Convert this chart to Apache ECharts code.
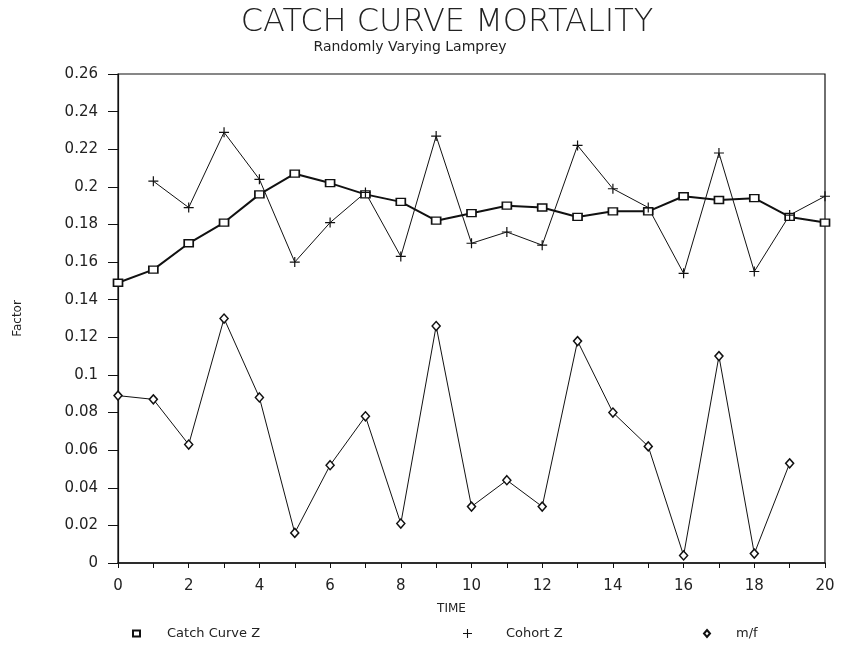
<!DOCTYPE html>
<html>
<head>
<meta charset="utf-8">
<script src="https://cdn.jsdelivr.net/npm/echarts@6/dist/echarts.min.js"></script>
<style>
  html, body { margin: 0; padding: 0; background: #fff; }
  #chart { width: 843px; height: 645px; }
</style>
</head>
<body>
<div id="chart"></div>
<script>
// 数据
var timeCatch = [0, 1, 2, 3, 4, 5, 6, 7, 8, 9, 10, 11, 12, 13, 14, 15, 16, 17, 18, 19, 20];
var catchCurveZ = [0.149, 0.156, 0.170, 0.181, 0.196, 0.207, 0.202, 0.196, 0.192, 0.182,
  0.186, 0.190, 0.189, 0.184, 0.187, 0.187, 0.195, 0.193, 0.194, 0.184, 0.181];

var timeCohort = [1, 2, 3, 4, 5, 6, 7, 8, 9, 10, 11, 12, 13, 14, 15, 16, 17, 18, 19, 20];
var cohortZ = [0.203, 0.189, 0.229, 0.204, 0.160, 0.181, 0.197, 0.163, 0.227,
  0.170, 0.176, 0.169, 0.222, 0.199, 0.189, 0.154, 0.218, 0.155, 0.185, 0.195];

var timeMf = [0, 1, 2, 3, 4, 5, 6, 7, 8, 9, 10, 11, 12, 13, 14, 15, 16, 17, 18, 19];
var mf = [0.089, 0.087, 0.063, 0.130, 0.088, 0.016, 0.052, 0.078, 0.021, 0.126,
  0.030, 0.044, 0.030, 0.118, 0.080, 0.062, 0.004, 0.110, 0.005, 0.053];

var seriesNames = ["Catch Curve Z", "Cohort Z", "m/f"];

function pairs(xs, ys) {
  return xs.map(function (x, i) { return [x, ys[i]]; });
}

var font = "DejaVu Sans";
var plusIcon = "path://M0,4.4H10V5.6H0Z M4.4,0H5.6V10H4.4Z";
var legendText = { fontFamily: font, fontSize: 13, color: "#222" };

var chart = echarts.init(document.getElementById("chart"));
var option = {
  animation: false,
  backgroundColor: "#fff",
  title: [
    {
      text: "CATCH CURVE MORTALITY",
      left: 442, top: 2, textAlign: "center",
      textStyle: { fontFamily: font, fontSize: 32, fontWeight: 200, color: "#222" }
    },
    {
      text: "Randomly Varying Lamprey",
      left: 405, top: 35, textAlign: "center",
      textStyle: { fontFamily: font, fontSize: 14, fontWeight: "normal", color: "#222" }
    }
  ],
  grid: {
    left: 118, right: 18, top: 74, bottom: 82,
    show: true, borderColor: "#111", borderWidth: 1.2
  },
  legend: [
    {
      data: [{ name: seriesNames[0], icon: "rect" }], left: 127, top: 622,
      itemWidth: 7, itemHeight: 6, itemGap: 10,
      textStyle: Object.assign({ padding: [0, 0, 0, 22] }, legendText)
    },
    {
      data: [{ name: seriesNames[1], icon: plusIcon }], left: 458, top: 622,
      itemWidth: 9, itemHeight: 9,
      textStyle: Object.assign({ padding: [0, 0, 0, 29] }, legendText)
    },
    {
      data: [{ name: seriesNames[2], icon: "diamond" }], left: 698, top: 622,
      itemWidth: 6, itemHeight: 7,
      textStyle: Object.assign({ padding: [0, 0, 0, 21] }, legendText)
    }
  ],
  xAxis: {
    type: "value", min: 0, max: 20, interval: 2,
    name: "TIME", nameLocation: "middle", nameGap: 40,
    nameTextStyle: { fontFamily: font, fontSize: 12, color: "#222", padding: [0, 40, 0, 0] },
    axisLine: { lineStyle: { color: "#111", width: 1.5 } },
    axisTick: { length: 5, lineStyle: { color: "#111" } },
    minorTick: { show: true, splitNumber: 2, length: 5, lineStyle: { color: "#111" } },
    axisLabel: { fontFamily: font, fontSize: 15, color: "#222", margin: 16 },
    splitLine: { show: false }
  },
  yAxis: {
    type: "value", min: 0, max: 0.26, interval: 0.02,
    name: "Factor", nameLocation: "middle", nameGap: 94,
    nameTextStyle: { fontFamily: font, fontSize: 12, color: "#222" },
    axisLine: { lineStyle: { color: "#111", width: 1.2 } },
    axisTick: { length: 10, lineStyle: { color: "#111" } },
    axisLabel: {
      fontFamily: font, fontSize: 15, color: "#222", margin: 20,
      formatter: function (v) { return String(parseFloat(v.toFixed(2))); }
    },
    splitLine: { show: false }
  },
  series: [
    {
      name: seriesNames[0], type: "line", data: pairs(timeCatch, catchCurveZ),
      symbol: "rect", symbolSize: [9, 7], showAllSymbol: true,
      lineStyle: { color: "#111", width: 2 },
      itemStyle: { color: "#fff", borderColor: "#111", borderWidth: 1.5 }
    },
    {
      name: seriesNames[1], type: "line", data: pairs(timeCohort, cohortZ),
      symbol: plusIcon, symbolSize: 10, showAllSymbol: true,
      lineStyle: { color: "#111", width: 1 },
      itemStyle: { color: "#111" }
    },
    {
      name: seriesNames[2], type: "line", data: pairs(timeMf, mf),
      symbol: "diamond", symbolSize: [8, 9], showAllSymbol: true,
      lineStyle: { color: "#111", width: 1 },
      itemStyle: { color: "#fff", borderColor: "#111", borderWidth: 1.5 }
    }
  ]
};
chart.setOption(option);
</script>
</body>
</html>
